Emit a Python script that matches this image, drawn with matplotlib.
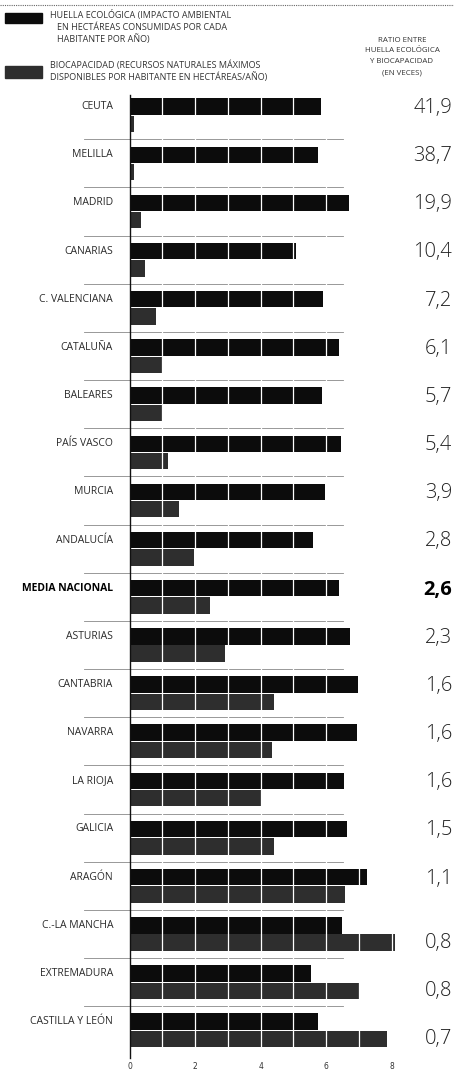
import matplotlib.pyplot as plt
import numpy as np

# data (hectares per inhabitant per year)
regions = ['CEUTA', 'MELILLA', 'MADRID', 'CANARIAS', 'C. VALENCIANA', 'CATALUÑA',
           'BALEARES', 'PAÍS VASCO', 'MURCIA', 'ANDALUCÍA', 'MEDIA NACIONAL',
           'ASTURIAS', 'CANTABRIA', 'NAVARRA', 'LA RIOJA', 'GALICIA', 'ARAGÓN',
           'C.-LA MANCHA', 'EXTREMADURA', 'CASTILLA Y LEÓN']
huella = [5.83, 5.76, 6.70, 5.07, 5.91, 6.39, 5.88, 6.44, 5.96, 5.60, 6.39,
          6.72, 6.98, 6.95, 6.54, 6.64, 7.25, 6.47, 5.52, 5.76]
biocap = [0.14, 0.15, 0.34, 0.48, 0.80, 1.00, 1.00, 1.18, 1.52, 1.97, 2.44,
          2.90, 4.40, 4.33, 4.00, 4.40, 6.57, 8.10, 7.00, 7.85]
ratio = ['41,9', '38,7', '19,9', '10,4', '7,2', '6,1', '5,7', '5,4', '3,9', '2,8',
         '2,6', '2,3', '1,6', '1,6', '1,6', '1,5', '1,1', '0,8', '0,8', '0,7']
xticks = [0, 2, 4, 6, 8]

W, H = 454, 1080
fig = plt.figure(figsize=(W / 100, H / 100), dpi=100)
fig.patch.set_facecolor('white')

# axes: x=0 at px 129.5, 32.8 px per unit; rows 48.16 px apart
ax = fig.add_axes([129.5 / W, 1 - 1058 / H, 311.6 / W, (1058 - 95) / H])
ax.set_xlim(0, 311.6 / 32.8)
ax.set_ylim(19.575, -0.42)
ax.patch.set_alpha(0)

rows = np.arange(len(regions))
off, bh = 0.18, 0.34
ax.barh(rows - off, huella, height=bh, color='#0c0c0c', zorder=2)
ax.barh(rows + off, biocap, height=bh, color='#2e2e2e', zorder=2)
for v in range(1, 10):
    ax.axvline(v, color='white', lw=0.9, zorder=3)

# row separators
for i in rows[1:]:
    ax.plot([-1.4, 6.5], [i - 0.5, i - 0.5], color='#888888', lw=0.6,
            zorder=1, clip_on=False)

for sp in ['top', 'right', 'bottom']:
    ax.spines[sp].set_visible(False)
ax.spines['left'].set_color('#111111')
ax.spines['left'].set_linewidth(1.0)
ax.set_yticks([])
ax.set_xticks(xticks)
ax.set_xticklabels([str(t) for t in xticks], fontsize=5.5, color='#333333')
ax.tick_params(axis='x', length=0, pad=3)

for i, name in enumerate(regions):
    bold = name == 'MEDIA NACIONAL'
    ax.text(-0.5, i - off, name, ha='right', va='center',
            fontsize=7.5, family='Open Sans',
            fontweight='bold' if bold else 'normal',
            color='#000000' if bold else '#2a2a2a', clip_on=False)
    ty = i - 0.15 if i < 17 else i + off
    ax.text(9.83, ty, ratio[i], ha='right', va='center', family='Open Sans',
            fontsize=14.5, fontweight='bold' if bold else 300,
            color='#000000' if bold else '#222222', clip_on=False)

# legend at the top
fig.lines.append(plt.Line2D([0, 1], [1 - 5 / H, 1 - 5 / H], transform=fig.transFigure,
                            color='#666666', lw=0.8, ls=(0, (1, 1))))
fig.patches.append(plt.Rectangle((5 / W, 1 - 23 / H), 37 / W, 10 / H,
                                 transform=fig.transFigure, color='#0c0c0c'))
fig.patches.append(plt.Rectangle((5 / W, 1 - 78 / H), 37 / W, 12 / H,
                                 transform=fig.transFigure, color='#2e2e2e'))
leg = dict(fontsize=6.5, family='Open Sans', color='#333333', va='center', ha='left')
fig.text(50 / W, 1 - 15 / H, 'HUELLA ECOLÓGICA (IMPACTO AMBIENTAL', **leg)
fig.text(57 / W, 1 - 27 / H, 'EN HECTÁREAS CONSUMIDAS POR CADA', **leg)
fig.text(57 / W, 1 - 39 / H, 'HABITANTE POR AÑO)', **leg)
fig.text(50 / W, 1 - 65 / H, 'BIOCAPACIDAD (RECURSOS NATURALES MÁXIMOS', **leg)
fig.text(50 / W, 1 - 77 / H, 'DISPONIBLES POR HABITANTE EN HECTÁREAS/AÑO)', **leg)

hdr = dict(fontsize=5.7, family='Open Sans', color='#333333', va='center', ha='center')
fig.text(402 / W, 1 - 40 / H, 'RATIO ENTRE', **hdr)
fig.text(402 / W, 1 - 51 / H, 'HUELLA ECOLÓGICA', **hdr)
fig.text(402 / W, 1 - 62 / H, 'Y BIOCAPACIDAD', **hdr)
fig.text(402 / W, 1 - 73 / H, '(EN VECES)', **hdr)

fig.savefig('out.png', dpi=100, facecolor='white')
